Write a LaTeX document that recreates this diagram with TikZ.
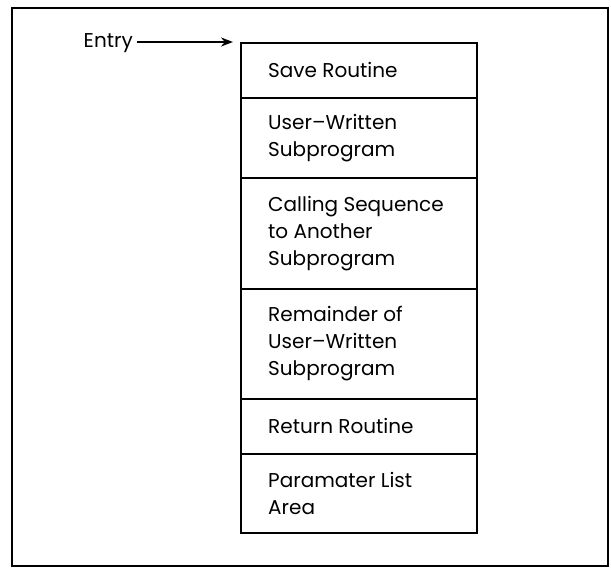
\documentclass[tikz,border=0pt]{standalone}
\usepackage{fontspec}
\setmainfont{Poppins}
\usetikzlibrary{arrows.meta}
\begin{document}
\begin{tikzpicture}[x=1pt,y=-1pt,
  every node/.style={font=\fontsize{20}{27}\selectfont},
  frame/.style={draw, line width=2.2pt},
  block/.style={draw, line width=1.5pt, minimum width=236pt, inner sep=0pt, anchor=north west},
  caption/.style={anchor=west, align=left, inner sep=0pt},
  feed/.style={line width=2pt, -{Stealth[length=12pt,width=9pt]}}]
  \useasboundingbox (0,0) rectangle (611,570);
  % outer frame
  \draw[frame] (12,8) rectangle (608,566);
  % memory layout column, one block per section
  \node[block, minimum height=55pt]  (save)   at (240,42)  {};
  \node[block, minimum height=80pt]  (user)   at (240,97)  {};
  \node[block, minimum height=111pt] (call)   at (240,177) {};
  \node[block, minimum height=110pt] (rest)   at (240,288) {};
  \node[block, minimum height=55pt]  (ret)    at (240,398) {};
  \node[block, minimum height=79pt]  (params) at (240,453) {};
  % block captions
  \node[caption] (tsave)   at ([xshift=28pt]save.west)   {Save Routine};
  \node[caption] (tuser)   at ([xshift=28pt]user.west)   {User–Written\\Subprogram};
  \node[caption] (tcall)   at ([xshift=28pt]call.west)   {Calling Sequence\\to Another\\Subprogram};
  \node[caption] (trest)   at ([xshift=28pt]rest.west)   {Remainder of\\User–Written\\Subprogram};
  \node[caption] (tret)    at ([xshift=28pt]ret.west)    {Return Routine};
  \node[caption] (tparams) at ([xshift=28pt]params.west) {Paramater List\\Area};
  % entry point
  \node[anchor=base east, inner sep=0pt] (entry) at (133,47) {Entry};
  \draw[feed, shorten <=4pt, shorten >=7pt] (entry.east |- save.north west) -- (save.north west);
\end{tikzpicture}
\end{document}
